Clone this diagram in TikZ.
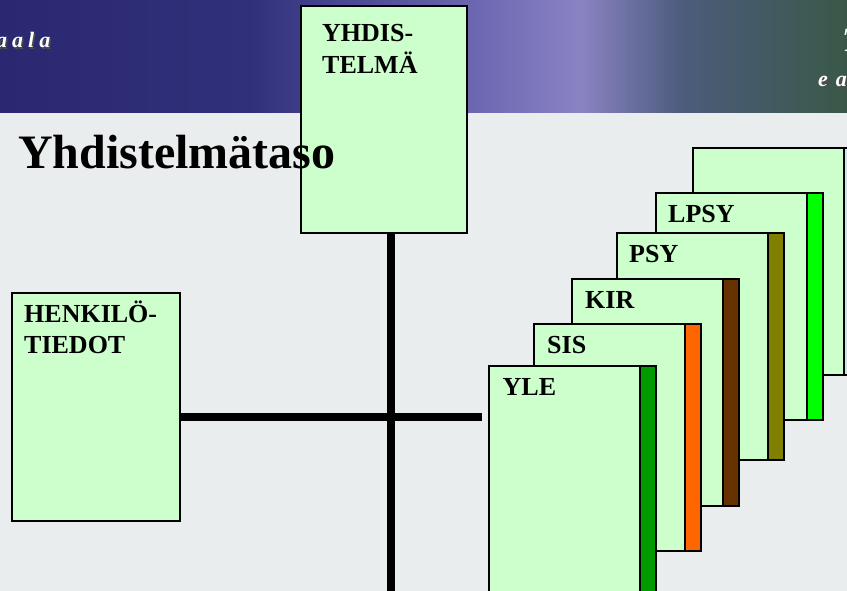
\documentclass[tikz,border=0pt]{standalone}
\usepackage{fontspec}
\setmainfont{Liberation Serif}
\usetikzlibrary{calc}
\definecolor{bgc}{HTML}{E9EDEE}
\definecolor{boxfill}{HTML}{CCFFCC}
\definecolor{hA}{HTML}{2A2870}
\definecolor{hB}{HTML}{30307A}
\definecolor{hC}{HTML}{6A66B0}
\definecolor{hD}{HTML}{8A84C4}
\definecolor{hE}{HTML}{4C5C7C}
\definecolor{hF}{HTML}{3A5848}
\definecolor{cyle}{HTML}{009900}
\definecolor{csis}{HTML}{FF6600}
\definecolor{ckir}{HTML}{663300}
\definecolor{cpsy}{HTML}{808000}
\definecolor{clpsy}{HTML}{00FF00}
\definecolor{cback}{HTML}{CFE3EA}
\begin{document}
\begin{tikzpicture}[x=1pt,y=-1pt,
  box/.style={draw=black, line width=1.2pt, fill=boxfill, rectangle, inner sep=0pt, outer sep=0pt, anchor=north west},
  stripebox/.style={draw=black, line width=1.2pt, rectangle, inner sep=0pt, outer sep=0pt, anchor=north west, minimum width=16, minimum height=227},
  lbl/.style={font=\bfseries\fontsize{26}{31.5}\selectfont, inner sep=0pt, anchor=base west, align=left},
  conn/.style={line width=8pt},
  hdr/.style={font=\bfseries\itshape\fontsize{22}{26}\selectfont, inner sep=0pt, anchor=base west, text=white},
  hdrshadow/.style={font=\bfseries\itshape\fontsize{22}{26}\selectfont, inner sep=0pt, anchor=base west, text=black!70}]
\clip (0,0) rectangle (847,591);
\fill[bgc] (0,0) rectangle (847,591);
% header band
\shade[left color=hA, right color=hB] (0,0) rectangle (251,113);
\shade[left color=hB, right color=hC] (250,0) rectangle (471,113);
\shade[left color=hC, right color=hD] (470,0) rectangle (581,113);
\shade[left color=hD, right color=hE] (580,0) rectangle (681,113);
\shade[left color=hE, right color=hF] (680,0) rectangle (847,113);
% header texts
\node[hdrshadow] at (-2.5,49.5) {a\hspace{5pt}a\hspace{5pt}l\hspace{5pt}a};
\node[hdr] (hl) at (-4,48) {a\hspace{5pt}a\hspace{5pt}l\hspace{5pt}a};
\node[hdrshadow] at (819.5,88.5) {e\hspace{8pt}a};
\node[hdr] (hr1) at (818,87) {e\hspace{8pt}a};
\node[hdr, font=\bfseries\itshape\fontsize{34}{40}\selectfont] (hr2) at (842,52) {T};
% composite box
\node[box, minimum width=166, minimum height=227] (yhd) at (301,6) {};
\node[lbl] at ($(yhd.north west)+(21,67.5)$) {YHDIS-\\TELMÄ};
% person box
\node[box, minimum width=168, minimum height=228] (henk) at (12,293) {};
\node[lbl] at ($(henk.north west)+(12,60.5)$) {HENKILÖ-\\TIEDOT};
% connectors
\coordinate (vb) at (391,600);
\draw[conn] (yhd.south -| vb) -- (vb);
\coordinate (hend) at (482,417);
\draw[conn] (henk.east |- hend) -- (hend);
% title
\node[font=\bfseries\fontsize{48}{56}\selectfont, inner sep=0pt, anchor=base west] (title) at (18,169) {Yhdistelmätaso};
% stacked boxes
\node[box, minimum width=151, minimum height=227] (back) at (693,148) {};
\node[stripebox, fill=cback] (backs) at (back.north east) {};
\node[box, minimum width=151, minimum height=227] (lpsy) at (656,193) {};
\node[stripebox, fill=clpsy] (lpsys) at (lpsy.north east) {};
\node[lbl] at ($(lpsy.north west)+(12,29.5)$) {LPSY};
\node[box, minimum width=151, minimum height=227] (psy) at (617,233) {};
\node[stripebox, fill=cpsy] (psys) at (psy.north east) {};
\node[lbl] at ($(psy.north west)+(12,29.5)$) {PSY};
\node[box, minimum width=151, minimum height=227] (kir) at (572,279) {};
\node[stripebox, fill=ckir] (kirs) at (kir.north east) {};
\node[lbl] at ($(kir.north west)+(13,29.5)$) {KIR};
\node[box, minimum width=151, minimum height=227] (sis) at (534,324) {};
\node[stripebox, fill=csis] (siss) at (sis.north east) {};
\node[lbl] at ($(sis.north west)+(13,29)$) {SIS};
\node[box, minimum width=151, minimum height=240] (yle) at (489,366) {};
\node[stripebox, fill=cyle, minimum height=240] (yles) at (yle.north east) {};
\node[lbl] at ($(yle.north west)+(13.5,29)$) {YLE};
\end{tikzpicture}
\end{document}
